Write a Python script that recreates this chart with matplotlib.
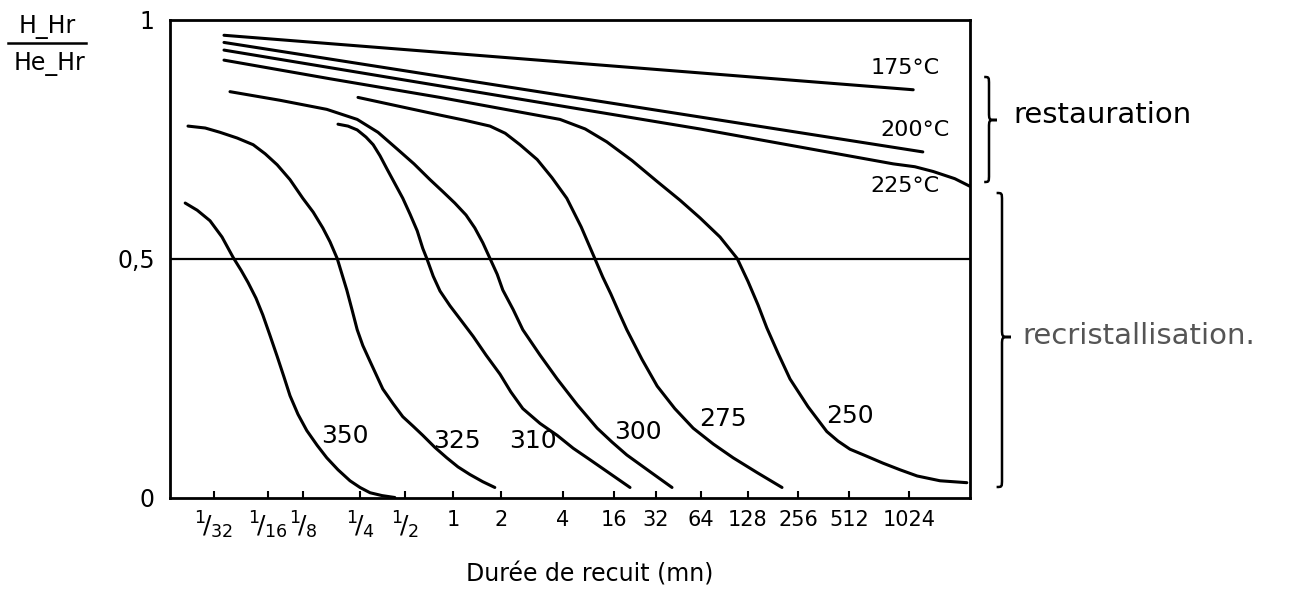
import matplotlib
matplotlib.use("Agg")
import matplotlib.pyplot as plt
from matplotlib.path import Path
from matplotlib.patches import PathPatch

# --- données (x en % de la largeur du cadre) ---
tick_pos = [5.5, 12.25, 16.6, 23.75, 29.4, 35.4, 41.4, 49.1, 55.5, 60.75,
            66.4, 72.25, 78.5, 84.9, 92.4]
tick_labels = [r"$^1\!/_{32}$", r"$^1\!/_{16}$", r"$^1\!/_{8}$", r"$^1\!/_{4}$",
               r"$^1\!/_{2}$", "1", "2", "4", "16", "32",
               "64", "128", "256", "512", "1024"]

x_175 = [6.75, 92.9]
y_175 = [0.967, 0.853]

x_200 = [6.75, 94.1]
y_200 = [0.952, 0.723]

x_225 = [6.75, 66.25, 90.4, 93.1, 95.4, 98.1, 100]
y_225 = [0.936, 0.771, 0.698, 0.692, 0.682, 0.667, 0.651]

x_250 = [6.75, 20, 33.75, 41.25, 48.75, 51.9, 54.6, 57.75, 60.9, 63.75, 66.25,
         68.75, 70.9, 72.25, 73.5, 74.6, 76, 77.5, 79.75, 82.1, 83.5, 85, 87,
         89.1, 91.25, 93.4, 96.25, 99.6]
y_250 = [0.915, 0.876, 0.837, 0.814, 0.791, 0.771, 0.744, 0.705, 0.661, 0.622,
         0.585, 0.545, 0.5, 0.452, 0.403, 0.355, 0.302, 0.248, 0.190, 0.138,
         0.118, 0.101, 0.087, 0.072, 0.058, 0.045, 0.035, 0.031]

x_275 = [23.5, 28.75, 33.75, 36.9, 40, 41.9, 43.75, 45.9, 47.75, 49.6, 51.4,
         53.1, 54.1, 55.1, 56.1, 57.1, 59, 60.9, 63.1, 65.4, 67.9, 70.4, 73.4, 76.5]
y_275 = [0.837, 0.818, 0.8, 0.789, 0.777, 0.762, 0.738, 0.707, 0.669, 0.626,
         0.566, 0.5, 0.461, 0.426, 0.388, 0.351, 0.289, 0.233, 0.186, 0.145,
         0.112, 0.083, 0.052, 0.021]

x_300 = [7.5, 13.75, 19.6, 23.4, 26, 28.4, 30.5, 32.5, 34.1, 35.6, 37, 38.1,
         39.1, 40, 40.9, 41.6, 42.9, 44.1, 46.25, 48.4, 50.9, 53.4, 55.25, 57.1,
         60, 62.75]
y_300 = [0.849, 0.831, 0.812, 0.791, 0.764, 0.729, 0.698, 0.665, 0.640, 0.616,
         0.591, 0.564, 0.533, 0.5, 0.467, 0.434, 0.393, 0.351, 0.298, 0.248,
         0.194, 0.145, 0.116, 0.089, 0.054, 0.021]

x_310 = [21, 22.25, 23.4, 24.5, 25.4, 26.25, 27.1, 28.1, 29.1, 30, 30.9, 31.6,
         32.1, 32.9, 33.75, 35, 36.5, 37.9, 39.5, 41.25, 42.6, 44.1, 46.25,
         48.4, 50.4, 52.5, 55, 57.5]
y_310 = [0.781, 0.777, 0.769, 0.754, 0.738, 0.715, 0.688, 0.657, 0.626, 0.593,
         0.558, 0.521, 0.5, 0.463, 0.432, 0.401, 0.368, 0.337, 0.298, 0.258,
         0.221, 0.186, 0.155, 0.130, 0.103, 0.079, 0.050, 0.021]

x_325 = [2.25, 4.4, 6.25, 8.4, 10.4, 11.9, 13.4, 15, 16.6, 17.9, 19.1, 20,
         20.9, 21.5, 22.1, 22.75, 23.4, 24.1, 25, 26.6, 27.9, 29.1, 30.4, 31.6,
         33.1, 34.6, 36, 37.5, 39.1, 40.6]
y_325 = [0.777, 0.773, 0.764, 0.752, 0.738, 0.719, 0.696, 0.665, 0.626, 0.597,
         0.564, 0.535, 0.5, 0.467, 0.434, 0.393, 0.351, 0.318, 0.285, 0.227,
         0.196, 0.169, 0.149, 0.130, 0.105, 0.083, 0.064, 0.048, 0.033, 0.021]

x_350 = [1.9, 3.4, 5, 6.5, 7.9, 8.9, 9.75, 10.75, 11.6, 12.5, 13.4, 14.25, 15,
         16, 17.1, 18.4, 19.6, 21, 22.5, 23.75, 25, 26.5, 28.1]
y_350 = [0.616, 0.601, 0.579, 0.545, 0.502, 0.475, 0.450, 0.417, 0.382, 0.339,
         0.295, 0.252, 0.213, 0.174, 0.140, 0.109, 0.083, 0.058, 0.035, 0.021,
         0.010, 0.004, 0.0]

courbes = [(x_175, y_175), (x_200, y_200), (x_225, y_225), (x_250, y_250),
           (x_275, y_275), (x_300, y_300), (x_310, y_310), (x_325, y_325),
           (x_350, y_350)]

# étiquettes des courbes : texte, x, y
etiquettes = [("175°C", 91.9, 0.899), ("200°C", 93.1, 0.769), ("225°C", 91.9, 0.651),
              ("350", 21.9, 0.128), ("325", 35.9, 0.118), ("310", 45.4, 0.118),
              ("300", 58.5, 0.138), ("275", 69.1, 0.165), ("250", 85, 0.171)]

W, H = 1290, 612
fig = plt.figure(figsize=(W / 100, H / 100), dpi=100)
ax = fig.add_axes([170 / W, 1 - 497.5 / H, 800 / W, 478 / H])

for xs, ys in courbes:
    ax.plot(xs, ys, color="black", lw=2.2, solid_joinstyle="round",
            solid_capstyle="round")

ax.axhline(0.5, color="black", lw=1.6)

for txt, x, y in etiquettes:
    fs = 16 if "C" in txt else 18
    ax.text(x, y, txt, fontsize=fs, ha="center", va="center")

ax.set_xlim(0, 100)
ax.set_ylim(0, 1)
ax.set_xticks(tick_pos)
ax.set_xticklabels(tick_labels, fontsize=15)
ax.set_yticks([0, 0.5, 1])
ax.set_yticklabels(["0", "0,5", "1"], fontsize=17)
ax.tick_params(axis="x", direction="in", length=5, width=1.5, pad=9)
ax.tick_params(axis="y", length=0, pad=11)
for lab in ax.get_xticklabels()[:5]:
    lab.set_fontsize(18)
for sp in ax.spines.values():
    sp.set_linewidth(2)

ax.set_xlabel("Durée de recuit (mn)", fontsize=17)
ax.xaxis.set_label_coords(0.525, -0.135)

# calque pour les annotations hors du cadre (coordonnées en pixels)
ov = fig.add_axes([0, 0, 1, 1], zorder=5)
ov.set_xlim(0, W)
ov.set_ylim(H, 0)
ov.axis("off")
ov.patch.set_alpha(0)


def accolade(x, y0, y1, ym, h=8, r=8):
    verts = [(x - h * 0.6, y0), (x, y0), (x, y0), (x, y0 + r),
             (x, ym - r),
             (x, ym), (x, ym), (x + h, ym),
             (x + h, ym), (x, ym), (x, ym), (x, ym + r),
             (x, y1 - r),
             (x, y1), (x, y1), (x - h * 0.6, y1)]
    codes = [Path.MOVETO, Path.CURVE4, Path.CURVE4, Path.CURVE4,
             Path.LINETO,
             Path.CURVE4, Path.CURVE4, Path.CURVE4,
             Path.MOVETO, Path.CURVE4, Path.CURVE4, Path.CURVE4,
             Path.LINETO,
             Path.CURVE4, Path.CURVE4, Path.CURVE4]
    ov.add_patch(PathPatch(Path(verts, codes), fill=False, lw=1.8, color="black"))


accolade(989, 77, 182, 120)
accolade(1002, 193, 487, 337, h=9)
ov.text(1013, 115, "restauration", fontsize=21, va="center", ha="left")
ov.text(1022, 336, "recristallisation.", fontsize=21, va="center", ha="left",
        color="#555555")

# ordonnée : fraction (H - Hr) / (He - Hr)
ov.text(47, 27, "H_Hr", fontsize=17, ha="center", va="center")
ov.plot([8, 86], [43, 43], color="black", lw=1.8)
ov.text(50, 64, "He_Hr", fontsize=17, ha="center", va="center")

fig.savefig("out.png", dpi=100, facecolor="white")
